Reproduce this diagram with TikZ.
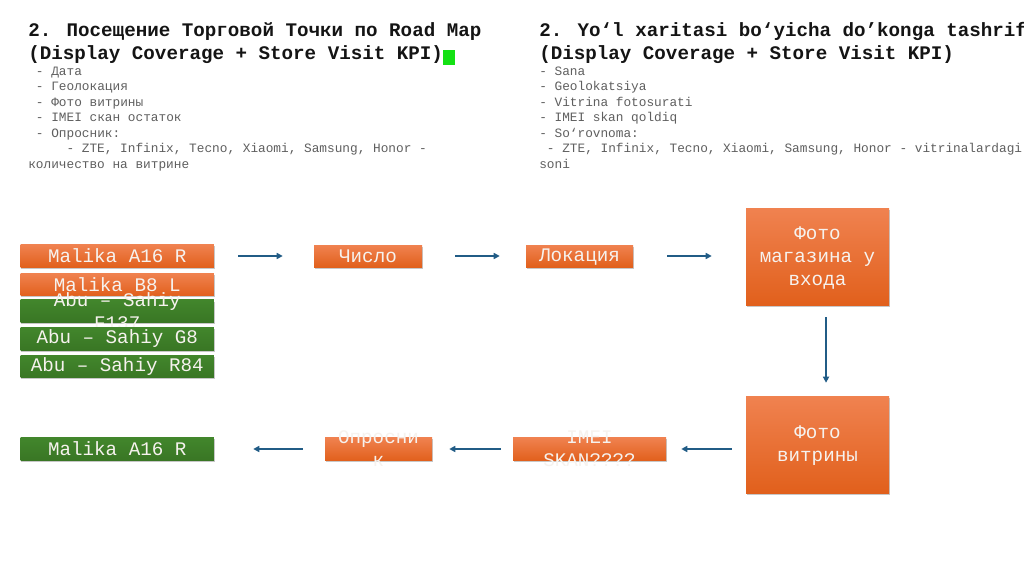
\documentclass[tikz,border=0pt]{standalone}
\usepackage{fontspec}
\newfontfamily\mono{Liberation Mono}
\usetikzlibrary{arrows.meta,shadows}
\definecolor{orT}{RGB}{240,130,80}
\definecolor{orB}{RGB}{225,96,28}
\definecolor{grnT}{RGB}{66,134,44}
\definecolor{grnB}{RGB}{57,118,36}
\definecolor{boxtext}{RGB}{246,242,238}
\definecolor{arrcol}{RGB}{33,92,134}
\definecolor{listgray}{RGB}{95,95,95}
\definecolor{hlgreen}{RGB}{20,225,20}
\begin{document}
\begin{tikzpicture}[x=0.75pt,y=-0.75pt,
  box/.style={rectangle, inner sep=0pt,
    drop shadow={shadow xshift=0.6pt, shadow yshift=-1.2pt, fill=black, opacity=0.22}},
  obox/.style={box, top color=orT, bottom color=orB},
  gbox/.style={box, top color=grnT, bottom color=grnB},
  wide/.style={minimum width=145.1pt, minimum height=17pt},
  btxt/.style={font=\mono\fontsize{14.4}{17.25}\selectfont, text=boxtext, align=center, inner sep=0pt},
  ttl/.style={font=\mono\bfseries\fontsize{14.4}{17.25}\selectfont, text=black!92, anchor=base west, inner sep=0pt},
  lst/.style={font=\mono\fontsize{9.58}{11.6}\selectfont, text=listgray, anchor=base west, inner sep=0pt},
  arr/.style={draw=arrcol, line width=1.1pt, -{Triangle[length=4.5pt,width=4.5pt]}}
]
\useasboundingbox (0,0) rectangle (1024,574);
\clip (0,0) rectangle (1024,574);
\fill[white] (0,0) rectangle (1024,574);

% ---- left text block
\node[ttl] (lt1) at (28,36.5) {2. Посещение Торговой Точки по Road Map};
\node[ttl] (lt2) at (28,59.5) {(Display Coverage + Store Visit KPI)};
\node[fill=hlgreen, inner sep=0pt, minimum width=9pt, minimum height=11.8pt, anchor=north west] (hl) at (443,49.3) {};
\node[lst] (l1) at (35.7,75.5) {- Дата};
\node[lst] (l2) at (35.7,91) {- Геолокация};
\node[lst] (l3) at (35.7,106.5) {- Фото витрины};
\node[lst] (l4) at (35.7,122) {- IMEI скан остаток};
\node[lst] (l5) at (35.7,137.5) {- Опросник:};
\node[lst] (l6) at (66.3,153) {- ZTE, Infinix, Tecno, Xiaomi, Samsung, Honor -};
\node[lst] (l7) at (28,168.5) {количество на витрине};

% ---- right text block
\node[ttl] (rt1) at (539,36.5) {2. Yo‘l xaritasi bo‘yicha do’konga tashrif};
\node[ttl] (rt2) at (539,59.5) {(Display Coverage + Store Visit KPI)};
\node[lst] (r1) at (539,75.5) {- Sana};
\node[lst] (r2) at (539,91) {- Geolokatsiya};
\node[lst] (r3) at (539,106.5) {- Vitrina fotosurati};
\node[lst] (r4) at (539,122) {- IMEI skan qoldiq};
\node[lst] (r5) at (539,137.5) {- So‘rovnoma:};
\node[lst] (r6) at (546.7,153) {- ZTE, Infinix, Tecno, Xiaomi, Samsung, Honor - vitrinalardagi};
\node[lst] (r7) at (539,168.5) {soni};

% ---- left stack of boxes
\node[obox, wide] (mA) at (117.25,256) {};
\node[btxt] (mAt) at (mA) {Malika A16 R};
\node[obox, wide] (mB) at (117.25,284.5) {};
\node[btxt] (mBt) at (mB) {Malika B8 L};
\node[gbox, wide] (aF) at (117.25,311.3) {};
\node[btxt] (aFt) at (aF) {Abu – Sahiy\\F137};
\node[gbox, wide] (aG) at (117.25,338.8) {};
\node[btxt] (aGt) at (aG) {Abu – Sahiy G8};
\node[gbox, wide] (aR) at (117.25,366.5) {};
\node[btxt] (aRt) at (aR) {Abu – Sahiy R84};

% ---- top row
\node[obox, minimum width=81pt, minimum height=16.5pt] (num) at (368,256) {};
\node[btxt] (numt) at (num) {Число};
\node[obox, minimum width=80.25pt, minimum height=16.5pt] (loc) at (579.5,256) {};
\node[btxt] (loct) at ([yshift=-0.8pt]loc.center) {Локация};
\node[obox, minimum width=107.25pt, minimum height=72.75pt] (fs) at (817.5,256.5) {};
\node[btxt] (fst) at ([yshift=-1.5pt]fs.center) {Фото\\магазина у\\входа};

% ---- right column / bottom row
\node[obox, minimum width=107.25pt, minimum height=72.75pt] (fv) at (817.5,444.5) {};
\node[btxt] (fvt) at ([yshift=-1pt]fv.center) {Фото\\витрины};
\node[obox, minimum width=114.75pt, minimum height=17.5pt] (im) at (589.5,449) {};
\node[btxt] (imt) at (im) {IMEI\\SKAN????};
\node[obox, minimum width=80.25pt, minimum height=17.5pt] (op) at (378.5,449) {};
\node[btxt] (opt) at (op) {Опросни\\к};
\node[gbox, wide] (mE) at (117.25,449) {};
\node[btxt] (mEt) at (mE) {Malika A16 R};

% ---- connectors
\draw[arr, shorten <=18pt, shorten >=23.25pt] (mA.east) -- (num.west);
\draw[arr, shorten <=24.75pt, shorten >=19.5pt] (num.east) -- (loc.west);
\draw[arr, shorten <=25.5pt, shorten >=25.5pt] (loc.east) -- (loc.east -| fs.west);
\draw[arr, shorten <=9pt, shorten >=9.75pt] ([xshift=6.4pt]fs.south) -- ([xshift=6.4pt]fv.north);
\draw[arr, shorten <=10.5pt, shorten >=11.25pt] (fv.west |- im.east) -- (im.east);
\draw[arr, shorten <=9pt, shorten >=12.75pt] (im.west) -- (op.east);
\draw[arr, shorten <=16.5pt, shorten >=29.25pt] (op.west) -- (mE.east);
\end{tikzpicture}
\end{document}
